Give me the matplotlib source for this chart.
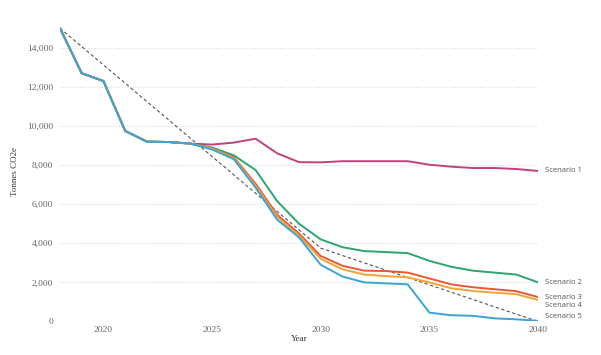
import numpy as np
import matplotlib
matplotlib.use("Agg")
import matplotlib.pyplot as plt


# =========================
# Data
# =========================

years = list(range(2018, 2041))

scenario_1 = [15000, 12700, 12300, 9750, 9200, 9180, 9100, 9050, 9150, 9350, 8600,
              8150, 8140, 8200, 8200, 8200, 8200, 8020, 7920, 7850, 7850, 7800, 7700]
scenario_2 = [15000, 12700, 12300, 9750, 9200, 9180, 9100, 8900, 8500, 7750, 6150,
              5000, 4200, 3800, 3600, 3550, 3500, 3100, 2800, 2600, 2500, 2400, 2000]
scenario_3 = [15000, 12700, 12300, 9750, 9200, 9180, 9100, 8850, 8400, 7050, 5450,
              4500, 3350, 2850, 2600, 2580, 2500, 2200, 1900, 1750, 1650, 1550, 1250]
scenario_4 = [15000, 12700, 12300, 9750, 9200, 9180, 9100, 8850, 8350, 6950, 5350,
              4400, 3200, 2670, 2400, 2320, 2260, 2000, 1700, 1560, 1470, 1400, 1100]
scenario_5 = [15000, 12700, 12300, 9750, 9200, 9180, 9100, 8800, 8300, 6850, 5200,
              4300, 2900, 2300, 2000, 1950, 1900, 450, 320, 290, 160, 110, 30]

target_years = [2018, 2030, 2040]
target_values = [15000, 3750, 0]

series_names = ["Scenario 1", "Scenario 2", "Scenario 3", "Scenario 4", "Scenario 5"]
series_values = [scenario_1, scenario_2, scenario_3, scenario_4, scenario_5]
series_colors = ["#c2407f", "#2aa66e", "#e8573a", "#f2a534", "#36a5d8"]

# small vertical nudges (points) so the end labels don't collide
label_offsets = [0, 0, 0, -4, 3]

y_ticks = [0, 2000, 4000, 6000, 8000, 10000, 12000, 14000]
x_ticks = [2020, 2025, 2030, 2035, 2040]


# =========================
# Plot
# =========================

fig = plt.figure(figsize=(6.01, 3.55), dpi=100)
ax = fig.add_axes([0.0998, 0.0944, 0.7955, 0.8425])

# dashed target path
ax.plot(target_years, target_values, color="#555555", lw=0.8,
        linestyle=(0, (3, 2.2)), zorder=2)

for name, vals, color, off in zip(series_names, series_values,
                                   series_colors, label_offsets):
    ax.plot(years, vals, color=color, lw=1.4, zorder=3,
            solid_joinstyle="round")
    ax.annotate(name, xy=(years[-1], vals[-1]), xytext=(5, off),
                textcoords="offset points", va="center", ha="left",
                fontsize=5.5, color="#555555", family="Open Sans",
                annotation_clip=False)

ax.set_xlim(2018, 2040)
ax.set_ylim(0, 15300)

ax.set_yticks(y_ticks)
ax.set_yticklabels([f"{v:,}" for v in y_ticks])
ax.set_xticks(x_ticks)

ax.grid(axis="y", color="#d8d8d8", linestyle=(0, (1, 1.5)), lw=0.8)
ax.grid(axis="x", visible=False)
ax.set_axisbelow(True)

for side in ["top", "right", "left", "bottom"]:
    ax.spines[side].set_visible(False)

ax.tick_params(axis="y", length=0, labelsize=6.8, labelcolor="#666666", pad=5)
ax.tick_params(axis="x", length=0, labelsize=6.8, labelcolor="#666666", pad=3)
for lab in ax.get_xticklabels() + ax.get_yticklabels():
    lab.set_family("Liberation Serif")

ax.set_xlabel("Year", fontsize=6.5, family="Liberation Serif",
              color="#333333", labelpad=1)
ax.set_ylabel("Tonnes CO2e", fontsize=6.5, family="Liberation Serif",
              color="#333333", labelpad=6)

fig.savefig("out.png", dpi=100)
